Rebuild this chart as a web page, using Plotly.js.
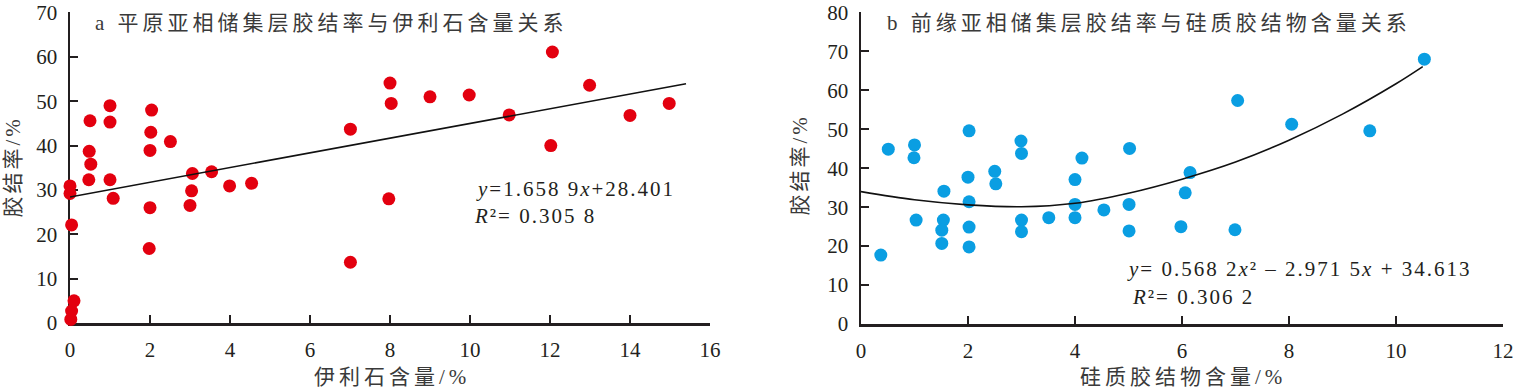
<!DOCTYPE html>
<html>
<head>
<meta charset="utf-8">
<script src="https://cdn.plot.ly/plotly-3.0.1.min.js"></script>
<style>
html,body{margin:0;padding:0;background:#fff;}
#chart{width:1515px;height:392px;}
.annotation .annotation-text{letter-spacing:4px;}
.annotation[data-index="4"] .annotation-text,
.annotation[data-index="5"] .annotation-text,
.annotation[data-index="6"] .annotation-text,
.annotation[data-index="7"] .annotation-text{letter-spacing:2px;}
.annotation[data-index="8"] .annotation-text,
.annotation[data-index="9"] .annotation-text{letter-spacing:3px;}
</style>
</head>
<body>
<div id="chart"></div>
<script>
// Panel a: illite content vs cementation rate
const illiteX = [0,0,-0.02,0.04,0.1,0.04,0.02, 0.5,0.48,0.52,0.47, 1.0,1.0,1.0,1.08, 2.04,2.02,2.0,2.0,1.98, 2.51, 3.06,3.04,3.0, 3.54, 3.99, 4.54, 7.01,7.01, 8.0,8.03,7.97, 9.0, 9.98, 10.98, 12.06,12.02, 12.99, 14.0, 14.98];
const cementA = [30.9,29.2,26.3,22.1,5.0,2.7,0.8, 45.6,38.7,35.8,32.3, 49.0,45.3,32.3,28.1, 48.0,43.0,38.9,26.0,16.8, 40.9, 33.7,29.8,26.5, 34.1, 30.9, 31.5, 43.7,13.7, 54.1,49.5,28.0, 51.0, 51.4, 46.9, 61.1,40.0, 53.6, 46.8, 49.5];
const fitAX = [0, 15.4];
const fitAY = [28.4, 53.95];

// Panel b: siliceous cement content vs cementation rate
const silicaX = [0.37, 0.51, 1.0,0.99,1.03, 1.55,1.54,1.51,1.51, 2.02,2.0,2.02,2.02,2.02, 2.5,2.52, 2.99,3.0,3.0,3.0, 3.51, 4.0,4.13,4.0,4.0, 4.54, 5.02,5.01,5.01, 5.98,6.06,6.15, 6.99,7.04, 8.05, 9.51, 10.53];
const cementB = [17.7, 44.9, 46.0,42.7,26.7, 34.1,26.7,24.1,20.7, 49.6,37.7,31.4,24.9,19.8, 39.2,36.0, 47.0,43.8,26.7,23.7, 27.3, 37.1,42.6,30.7,27.3, 29.3, 45.1,30.7,23.9, 25.0,33.7,38.9, 24.2,57.4, 51.3, 49.6, 68.0];
const fitBX = [0, 1, 2, 3, 4, 5, 6, 7, 8, 9, 10, 10.5];
const fitBY = [34.0, 31.9, 30.6, 30.1, 31.0, 33.6, 37.2, 41.6, 47.2, 53.9, 61.7, 66.1];

// Tick labels
const ticksAX = [0,2,4,6,8,10,12,14,16];
const ticksAY = [0,10,20,30,40,50,60,70];
const ticksBX = [0,2,4,6,8,10,12];
const ticksBY = [0,10,20,30,40,50,60,70,80];

const titleA = 'a 平原亚相储集层胶结率与伊利石含量关系';
const titleB = 'b 前缘亚相储集层胶结率与硅质胶结物含量关系';
const yTitle = '胶结率/%';
const xTitleA = '伊利石含量/%';
const xTitleB = '硅质胶结物含量/%';
const eqA = '<i>y</i>=1.658 9<i>x</i>+28.401';
const r2A = '<i>R</i>²= 0.305 8';
const eqB = '<i>y</i>= 0.568 2<i>x</i>² – 2.971 5<i>x</i> + 34.613';
const r2B = '<i>R</i>²= 0.306 2';

const W = 1515, H = 392;
const px = v => v / W;
const py = v => 1 - v / H;

const serif = 'Liberation Serif, Times New Roman, DejaVu Serif, serif';
const cjk = 'Liberation Serif, Noto Sans CJK SC, serif';
const red = '#e3000f';
const blue = '#0a9ee2';

const traces = [
  {x: illiteX, y: cementA, type: 'scatter', mode: 'markers', xaxis: 'x', yaxis: 'y',
   marker: {color: red, size: 13}, cliponaxis: false},
  {x: fitAX, y: fitAY, type: 'scatter', mode: 'lines', xaxis: 'x', yaxis: 'y',
   line: {color: '#111', width: 1.6}, cliponaxis: false},
  {x: silicaX, y: cementB, type: 'scatter', mode: 'markers', xaxis: 'x2', yaxis: 'y2',
   marker: {color: blue, size: 13}, cliponaxis: false},
  {x: fitBX, y: fitBY, type: 'scatter', mode: 'lines', xaxis: 'x2', yaxis: 'y2',
   line: {color: '#111', width: 1.6, shape: 'spline'}, cliponaxis: false}
];

function axisBase(extra) {
  return Object.assign({
    showline: true, linecolor: '#231f20', linewidth: 2.5,
    ticks: 'inside', ticklen: 8, tickwidth: 2, tickcolor: '#231f20',
    showgrid: false, zeroline: false, automargin: false,
    ticklabeloverflow: 'allow',
    tickfont: {family: serif, size: 21, color: '#231f20'},
    layer: 'below traces', fixedrange: true
  }, extra);
}

const annFontCJK = {family: cjk, size: 21, color: '#3a3a3a'};
const annFontEq = {family: serif, size: 21, color: '#231f20'};

const layout = {
  width: W, height: H,
  margin: {l: 0, r: 0, t: 0, b: 0},
  paper_bgcolor: '#fff', plot_bgcolor: '#fff',
  showlegend: false,
  font: {family: serif, size: 21},
  xaxis: axisBase({domain: [px(70), px(710)], range: [0, 16], tickvals: ticksAX, anchor: 'y', ticklabelstandoff: 6}),
  yaxis: axisBase({domain: [1 - 323/H, 1 - 12.06/H], range: [0, 70.1], tickvals: ticksAY, anchor: 'x', ticklabelstandoff: 6}),
  xaxis2: axisBase({domain: [px(861), px(1503)], range: [0, 12], tickvals: ticksBX, anchor: 'y2', ticklabelstandoff: 6}),
  yaxis2: axisBase({domain: [1 - 324/H, 1 - 12.1/H], range: [0, 80.1], tickvals: ticksBY, anchor: 'x2', ticklabelstandoff: 6}),
  annotations: [
    {text: titleA, xref: 'paper', yref: 'paper', x: px(331), y: py(23), xanchor: 'center', yanchor: 'middle', showarrow: false, font: annFontCJK},
    {text: titleB, xref: 'paper', yref: 'paper', x: px(1149), y: py(23), xanchor: 'center', yanchor: 'middle', showarrow: false, font: annFontCJK},
    {text: xTitleA, xref: 'paper', yref: 'paper', x: px(392), y: py(377), xanchor: 'center', yanchor: 'middle', showarrow: false, font: annFontCJK},
    {text: xTitleB, xref: 'paper', yref: 'paper', x: px(1183), y: py(377), xanchor: 'center', yanchor: 'middle', showarrow: false, font: annFontCJK},
    {text: eqA, xref: 'paper', yref: 'paper', x: px(575), y: py(189), xanchor: 'center', yanchor: 'middle', showarrow: false, font: annFontEq},
    {text: r2A, xref: 'paper', yref: 'paper', x: px(535), y: py(216), xanchor: 'center', yanchor: 'middle', showarrow: false, font: annFontEq},
    {text: eqB, xref: 'paper', yref: 'paper', x: px(1299), y: py(269), xanchor: 'center', yanchor: 'middle', showarrow: false, font: annFontEq},
    {text: r2B, xref: 'paper', yref: 'paper', x: px(1193), y: py(297), xanchor: 'center', yanchor: 'middle', showarrow: false, font: annFontEq},
    {text: yTitle, xref: 'paper', yref: 'paper', x: px(13), y: py(167), xanchor: 'center', yanchor: 'middle', textangle: -90, showarrow: false, font: annFontCJK},
    {text: yTitle, xref: 'paper', yref: 'paper', x: px(800), y: py(165), xanchor: 'center', yanchor: 'middle', textangle: -90, showarrow: false, font: annFontCJK}
  ]
};

Plotly.newPlot('chart', traces, layout, {displayModeBar: false, staticPlot: true});
</script>
</body>
</html>
